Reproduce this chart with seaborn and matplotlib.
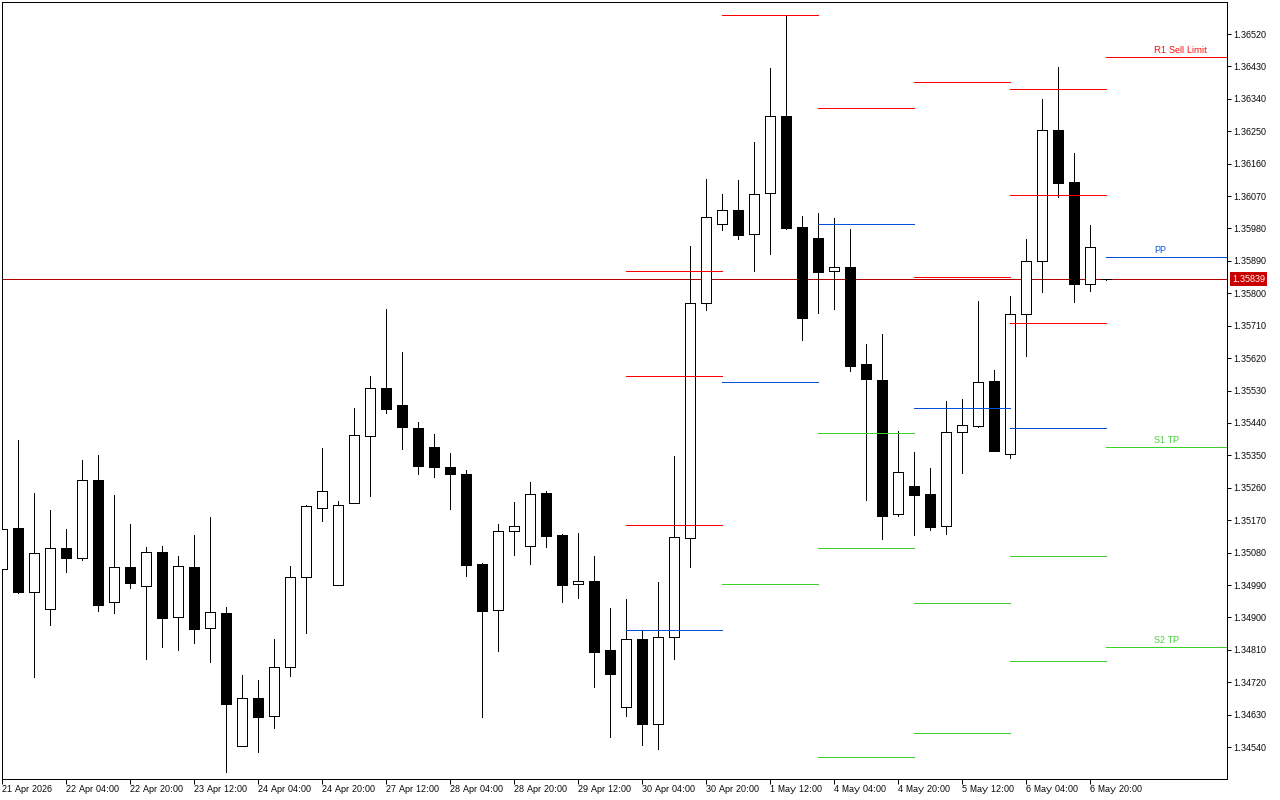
import matplotlib
matplotlib.use('Agg')
import matplotlib.pyplot as plt
import pandas as pd
import seaborn as sns

sns.set_theme(style='white')
plt.rcParams['font.family'] = ['Liberation Sans', 'DejaVu Sans']
plt.rcParams['text.hinting'] = 'native'
plt.rcParams['text.hinting_factor'] = 1

# GBPUSD-style H4 candles
opens = [1.35034, 1.35148, 1.34970, 1.34923, 1.35093, 1.35065, 1.35281, 1.34943, 1.35040, 1.34987,
         1.35081, 1.34901, 1.35040, 1.34870, 1.34912, 1.34543, 1.34676, 1.34626, 1.34762, 1.35012,
         1.35204, 1.34990, 1.35218, 1.35404, 1.35537, 1.35490, 1.35426, 1.35373, 1.35318, 1.35298,
         1.35048, 1.34920, 1.35140, 1.35098, 1.35245, 1.35129, 1.34993, 1.35001, 1.34809, 1.34651,
         1.34840, 1.34604, 1.34845, 1.35120, 1.35773, 1.35992, 1.36031, 1.35965, 1.36078, 1.36292,
         1.35984, 1.35953, 1.35862, 1.35873, 1.35604, 1.35559, 1.35187, 1.35265, 1.35243, 1.35154,
         1.35415, 1.35431, 1.35556, 1.35354, 1.35742, 1.35890, 1.36253, 1.36109, 1.35826, 1.35840]
highs = [1.35170, 1.35392, 1.35245, 1.35198, 1.35145, 1.35337, 1.35351, 1.35240, 1.35159, 1.35095,
         1.35098, 1.35070, 1.35129, 1.35179, 1.34929, 1.34740, 1.34726, 1.34840, 1.35043, 1.35212,
         1.35370, 1.35223, 1.35481, 1.35570, 1.35756, 1.35637, 1.35443, 1.35409, 1.35356, 1.35309,
         1.35051, 1.35159, 1.35220, 1.35276, 1.35251, 1.35132, 1.35134, 1.35070, 1.34926, 1.34951,
         1.34865, 1.34998, 1.35348, 1.35931, 1.36117, 1.36076, 1.36115, 1.36220, 1.36426, 1.36573,
         1.36015, 1.36023, 1.36009, 1.35978, 1.35659, 1.35687, 1.35418, 1.35359, 1.35315, 1.35501,
         1.35506, 1.35778, 1.35587, 1.35792, 1.35951, 1.36339, 1.36428, 1.36190, 1.35990, 1.35841]
lows = [1.35018, 1.34968, 1.34734, 1.34879, 1.35026, 1.35059, 1.34918, 1.34912, 1.34981, 1.34784,
        1.34818, 1.34809, 1.34829, 1.34776, 1.34471, 1.34543, 1.34526, 1.34593, 1.34737, 1.34857,
        1.35168, 1.34990, 1.35218, 1.35237, 1.35468, 1.35368, 1.35298, 1.35290, 1.35201, 1.35015,
        1.34623, 1.34807, 1.35073, 1.35048, 1.35095, 1.34943, 1.34954, 1.34707, 1.34568, 1.34626,
        1.34546, 1.34534, 1.34784, 1.35040, 1.35754, 1.35976, 1.35951, 1.35862, 1.35909, 1.35978,
        1.35670, 1.35745, 1.35756, 1.35584, 1.35226, 1.35118, 1.35181, 1.35129, 1.35143, 1.35132,
        1.35301, 1.35429, 1.35362, 1.35342, 1.35626, 1.35803, 1.36067, 1.35776, 1.35806, 1.35836]
closes = [1.35145, 1.34970, 1.35079, 1.35093, 1.35065, 1.35281, 1.34934, 1.35040, 1.34995, 1.35081,
          1.34898, 1.35043, 1.34868, 1.34915, 1.34659, 1.34676, 1.34623, 1.34762, 1.35012, 1.35209,
          1.35251, 1.35212, 1.35406, 1.35537, 1.35479, 1.35429, 1.35320, 1.35318, 1.35298, 1.35045,
          1.34918, 1.35140, 1.35154, 1.35243, 1.35126, 1.34990, 1.35001, 1.34804, 1.34743, 1.34840,
          1.34604, 1.34845, 1.35123, 1.35773, 1.36012, 1.36031, 1.35962, 1.36076, 1.36292, 1.35981,
          1.35731, 1.35859, 1.35873, 1.35598, 1.35562, 1.35181, 1.35304, 1.35240, 1.35151, 1.35415,
          1.35434, 1.35554, 1.35362, 1.35742, 1.35890, 1.36253, 1.36106, 1.35826, 1.35929, 1.35839]

# daily pivot levels: start/end candle of each session and its levels
seg_start = [39, 45, 51, 57, 63, 69]
seg_end = [45, 51, 57, 63, 69, 77]
res_levels = [[1.35862, 1.35570, 1.35156], [1.36573], [1.36315],
              [1.36387, 1.35845], [1.36367, 1.36073, 1.35717], [1.36456]]
pivots = [1.34865, 1.35554, 1.35992, 1.35481, 1.35426, 1.35901]
sup_levels = [[], [1.34993], [1.35412, 1.35093, 1.34512],
              [1.34940, 1.34579], [1.35070, 1.34779], [1.35373, 1.34818]]

date_labels = ['21 Apr 2026', '22 Apr 04:00', '22 Apr 20:00', '23 Apr 12:00', '24 Apr 04:00',
               '24 Apr 20:00', '27 Apr 12:00', '28 Apr 04:00', '28 Apr 20:00', '29 Apr 12:00',
               '30 Apr 04:00', '30 Apr 20:00', '1 May 12:00', '4 May 04:00', '4 May 20:00',
               '5 May 12:00', '6 May 04:00', '6 May 20:00']
price_ticks = [1.34540, 1.34630, 1.34720, 1.34810, 1.34900, 1.34990, 1.35080, 1.35170, 1.35260,
               1.35350, 1.35440, 1.35530, 1.35620, 1.35710, 1.35800, 1.35890, 1.35980, 1.36070,
               1.36160, 1.36250, 1.36340, 1.36430, 1.36520]
last_price = 1.35839

RED = '#ff0000'
BLUE = '#0050dc'
GREEN = '#3fd031'
LW = 0.72

candles = pd.DataFrame({'open': opens, 'high': highs, 'low': lows, 'close': closes})
candles['x'] = candles.index
candles['top'] = candles[['open', 'close']].max(axis=1)
candles['bottom'] = candles[['open', 'close']].min(axis=1)
up = candles['close'] > candles['open']

rows = []
for i in range(len(seg_start)):
    groups = [('res', res_levels[i]), ('pp', [pivots[i]]), ('sup', sup_levels[i])]
    for kind, levels in groups:
        for j, lvl in enumerate(levels):
            name = f'{i}-{kind}-{j}'
            rows.append({'x': seg_start[i], 'price': lvl, 'kind': kind, 'line': name})
            rows.append({'x': seg_end[i], 'price': lvl, 'kind': kind, 'line': name})
levels_df = pd.DataFrame(rows)

fig = plt.figure(figsize=(12.8, 8), dpi=100, facecolor='white')
ax = fig.add_axes([2 / 1280, 1 - 779 / 800, 1225 / 1280, 777 / 800])

# price line sits behind the candles
ax.axhline(last_price, color='#b00000', lw=LW, zorder=1, antialiased=False)

ax.vlines(candles['x'], candles['low'], candles['high'], color='black', lw=LW, zorder=2, antialiased=False)
ax.bar(candles['x'][up], candles['top'][up] - candles['bottom'][up], bottom=candles['bottom'][up],
       width=0.625, color='white', edgecolor='black', linewidth=LW, zorder=3, antialiased=False)
ax.bar(candles['x'][~up], candles['top'][~up] - candles['bottom'][~up], bottom=candles['bottom'][~up],
       width=0.625, color='black', edgecolor='black', linewidth=LW, zorder=3, antialiased=False)

sns.lineplot(data=levels_df, x='x', y='price', hue='kind', units='line', estimator=None,
             palette={'res': RED, 'pp': BLUE, 'sup': GREEN}, linewidth=LW, legend=False,
             ax=ax, zorder=4, antialiased=False)

# labels on the last session's levels
ax.annotate('R1 Sell Limit', (72, res_levels[5][0]), xytext=(0, 1.2), textcoords='offset points',
            color=RED, fontsize=6.8, va='bottom', ha='left', zorder=5)
ax.annotate('PP', (72, pivots[5]), xytext=(0, 1.2), textcoords='offset points',
            color=BLUE, fontsize=6.8, va='bottom', ha='left', zorder=5)
ax.annotate('S1 TP', (72, sup_levels[5][0]), xytext=(0, 1.2), textcoords='offset points',
            color=GREEN, fontsize=6.8, va='bottom', ha='left', zorder=5)
ax.annotate('S2 TP', (72, sup_levels[5][1]), xytext=(0, 1.2), textcoords='offset points',
            color=GREEN, fontsize=6.8, va='bottom', ha='left', zorder=5)

ax.set_xlim(0, 76.5625)
ax.set_ylim(1.344514, 1.366089)
ax.set_xlabel('')
ax.set_ylabel('')
ax.set_xticks(list(range(0, 4 * len(date_labels), 4)))
ax.set_xticklabels(date_labels, ha='left', color='black')
ax.set_yticks(price_ticks)
ax.set_yticklabels([f'{p:.5f}' for p in price_ticks], color='black')
ax.yaxis.tick_right()
ax.tick_params(axis='x', bottom=True, length=3.5, width=LW, labelsize=6.8, pad=0.5, color='black')
ax.tick_params(axis='y', right=True, left=False, length=3, width=LW, labelsize=6.8, pad=1.5, color='black')
for spine in ax.spines.values():
    spine.set_visible(True)
    spine.set_color('black')
    spine.set_linewidth(LW)

# current price tag on the axis
ax.annotate(f'{last_price:.5f}', (1, last_price), xycoords=('axes fraction', 'data'), xytext=(3.6, 0),
            textcoords='offset points', color='white', fontsize=6.8, va='center', ha='left',
            bbox=dict(boxstyle='square,pad=0.25', fc='#c80000', ec='#c80000', lw=0), zorder=6,
            annotation_clip=False)

fig.savefig('out.png', dpi=100)
